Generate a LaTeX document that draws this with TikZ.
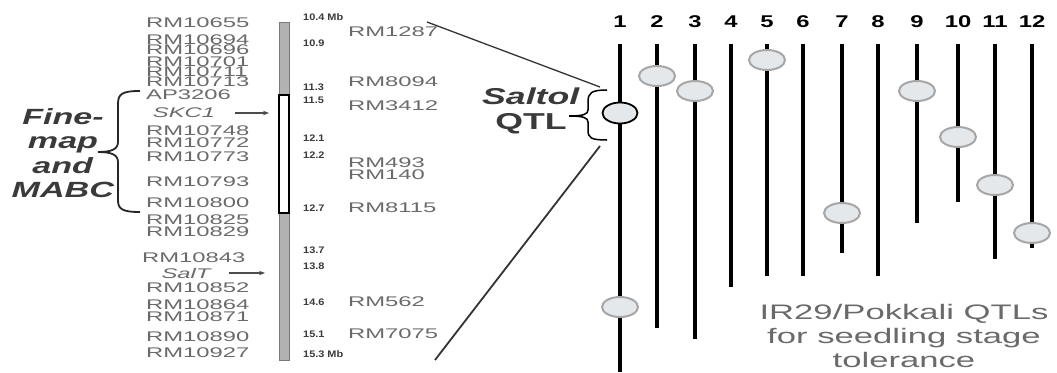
\documentclass[tikz,border=0pt]{standalone}
\usepackage{fontspec}
\setmainfont{Liberation Sans}
\newfontfamily\mkfont[FakeStretch=1.7]{Liberation Sans}
\newfontfamily\hdfont[FakeStretch=1.55]{Liberation Sans}
\newfontfamily\numfont[FakeStretch=1.4]{Liberation Sans}
\newfontfamily\capfont[FakeStretch=1.65]{Liberation Sans}
\newfontfamily\mbfont[FakeStretch=1.15]{Liberation Sans}
\usetikzlibrary{shapes.geometric, arrows.meta}
\definecolor{mkgray}{HTML}{6A6A6A}
\definecolor{txtdark}{HTML}{3A3A3A}
\definecolor{qtlfill}{HTML}{E4E8EA}
\definecolor{qtledge}{HTML}{A6A6A6}
\definecolor{bargray}{HTML}{B2B2B2}
\definecolor{baredge}{HTML}{7A7A7A}

\begin{document}
\begin{tikzpicture}[x=1pt, y=-1pt,
  mk/.style={anchor=west, inner sep=0pt, text=mkgray, font=\mkfont\fontsize{14}{14}\selectfont},
  gene/.style={inner sep=0pt, text=mkgray, font=\mkfont\itshape\fontsize{14}{14}\selectfont},
  mb/.style={anchor=west, inner sep=0pt, text=txtdark, font=\mbfont\bfseries\fontsize{9.5}{9.5}\selectfont},
  num/.style={inner sep=0pt, font=\numfont\bfseries\fontsize{17}{17}\selectfont},
  hd/.style={inner sep=0pt, align=center, text=txtdark, font=\hdfont\bfseries\fontsize{22}{24.3}\selectfont},
  legtxt/.style={inner sep=0pt, align=center, text=mkgray, font=\capfont\fontsize{21}{24}\selectfont},
  qtl/.style={ellipse, draw=qtledge, fill=qtlfill, line width=2pt, minimum width=36pt, minimum height=20pt, inner sep=0pt},
  chr/.style={line width=4.5pt},
  arr/.style={-{Stealth[length=6pt,width=4.5pt]}, draw=black!70, line width=1.2pt},
  brc/.style={line width=1.8pt, draw=black!85}]
  \useasboundingbox (0,0) rectangle (1057,372);
  % physical map bar
  \draw[fill=bargray, draw=baredge, line width=1pt] (279,22) rectangle (289,360);
  \draw[fill=white, draw=black, line width=1.6pt] (279,95) rectangle (289,213);
  % markers left of the bar
  \foreach \n/\y in {RM10655/23, RM10694/40, RM10696/50, RM10701/62, RM10711/72, RM10713/82,
    AP3206/95, RM10748/131, RM10772/143, RM10773/157, RM10793/182, RM10800/203,
    RM10825/220, RM10829/232, RM10852/288, RM10864/305, RM10871/317, RM10890/337, RM10927/353}
    \node[mk] (\n) at (146,\y) {\n};
  \node[mk] (RM10843) at (142,258) {RM10843};
  \node[gene] (skc) at (184,113) {SKC1};
  \node[gene] (salt) at (186,273) {SalT};
  \coordinate (skcpt) at (269,113);
  \coordinate (saltpt) at (265,273);
  \draw[arr, shorten <=20pt] (skc.east) -- (skcpt);
  \draw[arr, shorten <=18pt] (salt.east) -- (saltpt);
  % positions in Mb and markers right of the bar
  \foreach \t/\y [count=\i] in {10.4 Mb/17, 10.9/43, 11.3/87, 11.5/100, 12.1/138, 12.2/155,
    12.7/208, 13.7/250, 13.8/266, 14.6/302, 15.1/334, 15.3 Mb/354}
    \node[mb] (mb\i) at (303,\y) {\t};
  \foreach \n/\y in {RM1287/32, RM8094/82, RM3412/106, RM493/163, RM140/175, RM8115/208, RM562/302, RM7075/334}
    \node[mk] (\n) at (348,\y) {\n};
  % fine-map brace
  \node[hd] (fine) at (63,153) {\textit{Fine-}\\\textit{map}\\\textit{and}\\\textit{MABC}};
  \draw[brc] (140,91) .. controls (122,91) and (118,94) .. (118,104) -- (118,142)
    .. controls (118,149) and (112,152) .. (98,152) .. controls (112,152) and (118,155) .. (118,162)
    -- (118,200) .. controls (118,209) and (122,212) .. (140,212);
  % Saltol brace and zoom lines
  \node[hd, font=\hdfont\bfseries\fontsize{23}{25}\selectfont] (saltol) at (531,111) {\textit{Saltol}\\QTL};
  \draw[line width=1.5pt] (607,90) .. controls (591,90) and (588,93) .. (588,102) -- (588,110)
    .. controls (588,114) and (584,116) .. (569,116) .. controls (584,116) and (588,118) .. (588,122)
    -- (588,130) .. controls (588,138) and (591,140) .. (607,140);
  \coordinate (zt) at (427,22);
  \coordinate (zb) at (435,360);
  \coordinate (st) at (600,87);
  \coordinate (sb) at (600,146);
  \draw[line width=1.3pt, draw=black!80] (zt) -- (st);
  \draw[line width=1.8pt, draw=black!80] (zb) -- (sb);
  % chromosomes 1-12
  \foreach \x/\b [count=\i] in {620/372, 657/328, 695/339, 731/287, 767/276, 803/276,
    842/253, 878/276, 917/223, 958/202, 995/259, 1032/248}{
    \node[num] (n\i) at (\x,22) {\i};
    \draw[chr] (\x,44) -- (\x,\b);
  }
  % QTLs
  \foreach \x/\y in {620/307, 657/76, 695/91, 767/60, 842/213, 917/91, 958/137, 995/185, 1032/233}
    \node[qtl] (q\x) at (\x,\y) {};
  \node[qtl, draw=black, line width=1.8pt, minimum width=35pt, minimum height=21pt] (saltolqtl) at (620,113) {};
  \node[legtxt] (legend) at (904,336) {IR29/Pokkali QTLs\\for seedling stage\\tolerance};
\end{tikzpicture}
\end{document}
